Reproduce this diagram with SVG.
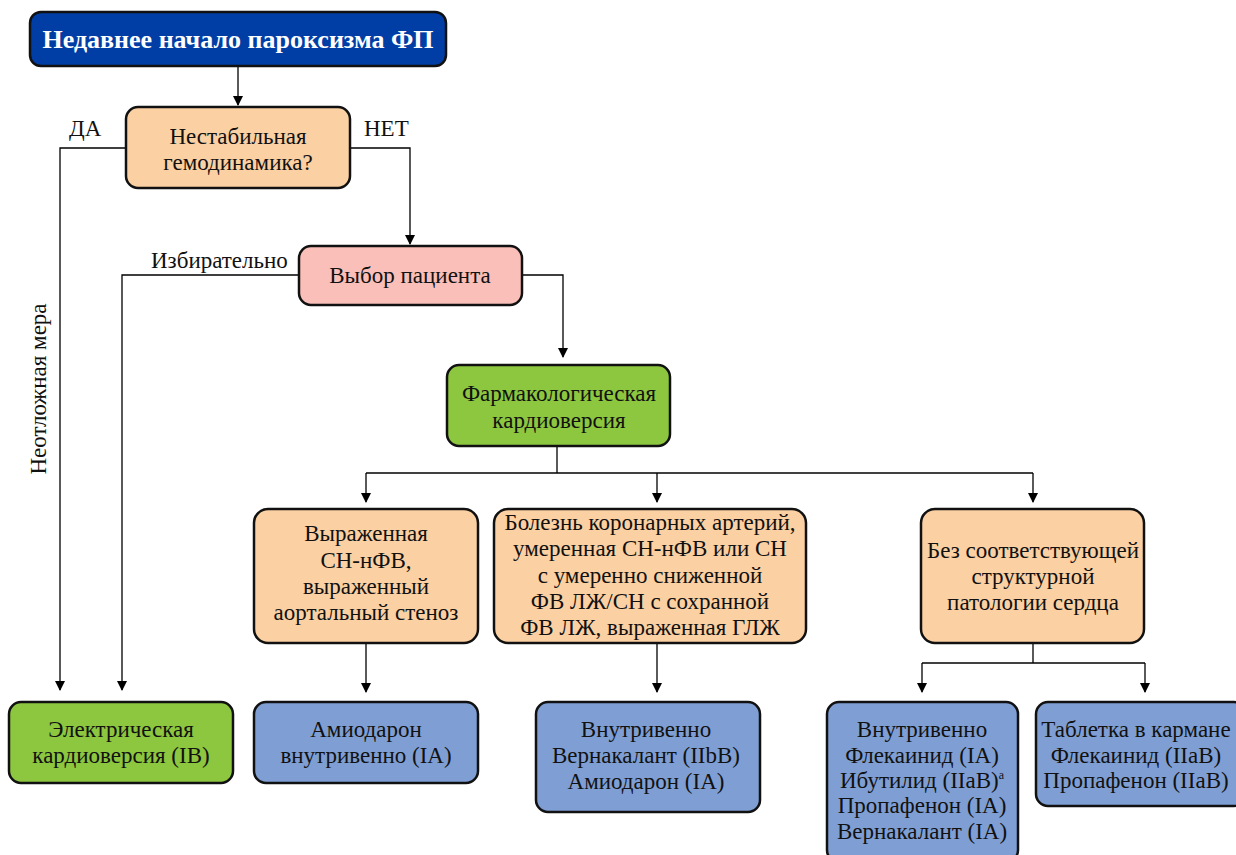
<svg xmlns="http://www.w3.org/2000/svg" width="1236" height="855" viewBox="0 0 1236 855">
<defs>
<marker id="ah" markerWidth="10" markerHeight="10" refX="9" refY="5" orient="auto" markerUnits="userSpaceOnUse">
<path d="M0,0 L10,5 L0,10 z" fill="#000"/>
</marker>
<style>
.box{stroke:#111;stroke-width:2.5}
.peach{fill:#fbd0a3}.pink{fill:#f9bfb8}.green{fill:#8dc63f}.blue{fill:#7f9fd4}.dblue{fill:#003ea6}
text{font-family:"Liberation Serif","Times New Roman",serif;font-size:23px;fill:#111;text-anchor:middle}
.title{font-weight:bold;font-size:26px;fill:#fff}
.lbl{text-anchor:start}
.conn{fill:none;stroke:#000;stroke-width:1.3}
</style>
</defs>
<rect width="1236" height="855" fill="#fff"/>
<g id="connectors">
<path class="conn" d="M238,66 V105" marker-end="url(#ah)"/>
<path class="conn" d="M126,148 H60 V690" marker-end="url(#ah)"/>
<path class="conn" d="M350,148 H410 V244" marker-end="url(#ah)"/>
<path class="conn" d="M299,275 H122 V690" marker-end="url(#ah)"/>
<path class="conn" d="M522,275 H563 V357" marker-end="url(#ah)"/>
<path class="conn" d="M557,446 V473"/>
<path class="conn" d="M366,473 H1033"/>
<path class="conn" d="M366,473 V502" marker-end="url(#ah)"/>
<path class="conn" d="M657,473 V502" marker-end="url(#ah)"/>
<path class="conn" d="M1033,473 V502" marker-end="url(#ah)"/>
<path class="conn" d="M366,643 V692" marker-end="url(#ah)"/>
<path class="conn" d="M657,643 V692" marker-end="url(#ah)"/>
<path class="conn" d="M1033,643 V663"/>
<path class="conn" d="M922,663 H1145"/>
<path class="conn" d="M922,663 V692" marker-end="url(#ah)"/>
<path class="conn" d="M1145,663 V692" marker-end="url(#ah)"/>
<text class="lbl" x="69" y="136">ДА</text>
<text class="lbl" x="364" y="136">НЕТ</text>
<text class="lbl" x="151" y="268">Избирательно</text>
<text transform="translate(46,389) rotate(-90)">Неотложная мера</text>
</g>
<g id="n-start">
<rect class="box dblue" x="30" y="12" width="416" height="54" rx="11"/>
<text class="title" x="238" y="48">Недавнее начало пароксизма ФП</text>
</g>
<g id="n-unstable">
<rect class="box peach" x="126" y="107" width="224" height="81" rx="12"/>
<text x="238" y="144">Нестабильная</text>
<text x="238" y="170">гемодинамика?</text>
</g>
<g id="n-choice">
<rect class="box pink" x="299" y="246" width="223" height="59" rx="12"/>
<text x="410" y="283">Выбор пациента</text>
</g>
<g id="n-pharm">
<rect class="box green" x="447" y="365" width="223" height="81" rx="12"/>
<text x="559" y="401">Фармакологическая</text>
<text x="559" y="428">кардиоверсия</text>
</g>
<g id="n-severe">
<rect class="box peach" x="254" y="509" width="224" height="134" rx="14"/>
<text x="366" y="541">Выраженная</text>
<text x="366" y="568">СН-нФВ,</text>
<text x="366" y="594">выраженный</text>
<text x="366" y="620">аортальный стеноз</text>
</g>
<g id="n-cad">
<rect class="box peach" x="494" y="509" width="312" height="134" rx="14"/>
<text x="650" y="530">Болезнь коронарных артерий,</text>
<text x="650" y="556">умеренная СН-нФВ или СН</text>
<text x="650" y="583">с умеренно сниженной</text>
<text x="650" y="609">ФВ ЛЖ/СН с сохранной</text>
<text x="650" y="635">ФВ ЛЖ, выраженная ГЛЖ</text>
</g>
<g id="n-nostruct">
<rect class="box peach" x="921" y="509" width="223" height="134" rx="14"/>
<text x="1033" y="558">Без соответствующей</text>
<text x="1033" y="584">структурной</text>
<text x="1033" y="610">патологии сердца</text>
</g>
<g id="n-ecv">
<rect class="box green" x="9" y="702" width="224" height="81" rx="12"/>
<text x="121" y="737">Электрическая</text>
<text x="121" y="763">кардиоверсия (IB)</text>
</g>
<g id="n-amio">
<rect class="box blue" x="254" y="702" width="224" height="81" rx="12"/>
<text x="366" y="737">Амиодарон</text>
<text x="366" y="763">внутривенно (IA)</text>
</g>
<g id="n-iv1">
<rect class="box blue" x="536" y="702" width="224" height="110" rx="12"/>
<text x="646" y="737">Внутривенно</text>
<text x="646" y="763">Вернакалант (IIbB)</text>
<text x="646" y="789">Амиодарон (IA)</text>
</g>
<g id="n-iv2">
<rect class="box blue" x="827" y="702" width="191" height="160" rx="12"/>
<text x="922" y="737">Внутривенно</text>
<text x="922" y="763">Флекаинид (IA)</text>
<text x="922" y="788">Ибутилид (IIaB)<tspan font-size="12" dy="-9">a</tspan></text>
<text x="922" y="813">Пропафенон (IA)</text>
<text x="922" y="839">Вернакалант (IA)</text>
</g>
<g id="n-pip">
<rect class="box blue" x="1036" y="702" width="210" height="104" rx="12"/>
<text x="1136" y="737">Таблетка в кармане</text>
<text x="1136" y="763">Флекаинид (IIaB)</text>
<text x="1136" y="788">Пропафенон (IIaB)</text>
</g>
</svg>
